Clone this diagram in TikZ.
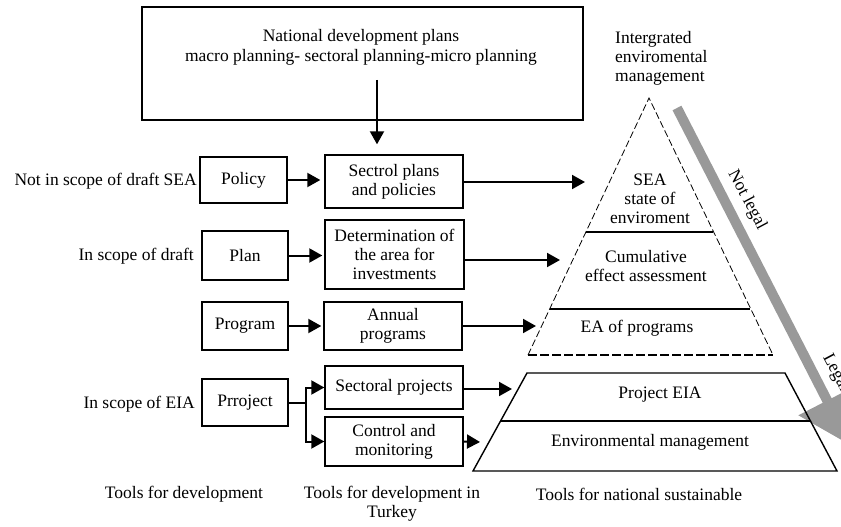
\documentclass[tikz,border=0pt]{standalone}
\usepackage{fontspec}
\setmainfont{Liberation Serif}
\usetikzlibrary{arrows.meta,positioning}

\begin{document}
\begin{tikzpicture}[
            x=1pt, y=-1pt, % work in pixel-like units, y pointing down
            every node/.style={font=\fontsize{17.5}{19}\selectfont, inner sep=0pt, align=center},
            box/.style={draw, line width=1.4pt},
            flow/.style={line width=2pt, -{Triangle[length=13pt,width=14pt]}},
            layer/.style={line width=1.4pt}
        ]

            \useasboundingbox (0,0) rectangle (841,527);

            % 1. National plans box on top
            \node[box, minimum width=441pt, minimum height=113pt] (natplan) at (362.5,63.5) {};
            \node[font=\fontsize{17.5}{20}\selectfont] (natplantext) at (361,47) {National development plans\\macro planning- sectoral planning-micro planning};
            \coordinate (drop) at (377,80);

            % 2. Tools for development (left column)
            \node[box, minimum width=87pt, minimum height=46pt] (policy) at (243.5,180) {Policy};
            \node[box, minimum width=86pt, minimum height=49pt] (plan) at (245,255.5) {Plan};
            \node[box, minimum width=86pt, minimum height=48pt] (program) at (245,326) {Program};
            \node[box, minimum width=86pt, minimum height=47pt] (prroject) at (245,402.5) {Prroject};

            \node[anchor=east] (notsea) at (197,181) {Not in scope of draft SEA};
            \node[anchor=east] (draft) at (194,256) {In scope of draft};
            \node[anchor=east] (eia) at (195,404) {In scope of EIA};

            % 3. Tools for development in Turkey (middle column)
            \node[box, minimum width=138pt, minimum height=53pt] (sectrol) at (394,181.5) {Sectrol plans\\and policies};
            \node[box, minimum width=139pt, minimum height=69pt] (determ) at (394.5,254.5) {Determination of\\the area for\\investments};
            \node[box, minimum width=138pt, minimum height=48pt] (annual) at (393,326) {Annual\\programs};
            \node[box, minimum width=138pt, minimum height=43pt] (sectoral) at (394,387.5) {Sectoral projects};
            \node[box, minimum width=138pt, minimum height=49pt] (control) at (394,441.5) {Control and\\monitoring};

            % 4. Arrows between the columns
            \draw[flow] (drop) -- ([yshift=10pt]drop |- sectrol.north);
            \draw[flow, shorten >=4pt] (policy.east) -- (policy.east -| sectrol.west);
            \draw[flow, shorten >=2pt] (plan.east) -- (plan.east -| determ.west);
            \draw[flow, shorten >=2pt] (program) -- (annual);
            \draw[flow] (prroject.east) -- ++(17,0) |- (sectoral.west);
            \draw[flow] (prroject.east) -- ++(17,0) |- (control.west);

            % arrow ends on the pyramid
            \coordinate (seaIn) at (585,182);
            \coordinate (detIn) at (560,260);
            \coordinate (eaIn) at (536,326);
            \coordinate (eiaIn) at (512,389);
            \coordinate (manIn) at (480,442);
            \draw[flow] (sectrol.east |- seaIn) -- (seaIn);
            \draw[flow] (determ.east |- detIn) -- (detIn);
            \draw[flow] (annual.east) -- (eaIn);
            \draw[flow] (sectoral.east |- eiaIn) -- (eiaIn);
            \draw[flow] (control.east) -- (manIn);

            % 5. Gray legality arrow (runs off the right edge)
            \begin{scope}
                \clip (0,0) rectangle (841,527);
                \draw[line width=10pt, gray!80, -{Triangle[length=50pt,width=62pt]}] (677,108) -- (850,445);
                \node[rotate=-62] (legal) at (836,373) {Legal};
            \end{scope}
            \node[rotate=-62] (notlegal) at (747,200) {Not legal};

            % 6. Pyramid of strategic assessment (dashed, not legal)
            \draw[dash pattern=on 7pt off 3pt, line width=0.8pt] (528,355) -- (649,98) -- (773,355);
            \draw[dash pattern=on 9pt off 3pt, line width=1.8pt] (528,355) -- (773,355);
            \draw[layer] (586,232) -- (713,232);
            \draw[layer] (550,309) -- (750,309);

            \node[anchor=west, align=left] (iem) at (615,58) {Intergrated\\enviromental\\management};
            \node (sea) at (650,199) {SEA\\state of\\enviroment};
            \node (cea) at (646,266) {Cumulative\\effect assessment};
            \node (eaprog) at (637,328) {EA of programs};

            % 7. Legal base: project level
            \draw[layer] (527,373) -- (785,373) -- (837,471) -- (473,471) -- cycle;
            \draw[layer] (501,421) -- (810,421);
            \node (projeia) at (660,395) {Project EIA};
            \node (envman) at (650,442) {Environmental management};

            % 8. Column captions
            \node (cap1) at (184,494) {Tools for development};
            \node (cap2) at (392,504) {Tools for development in\\Turkey};
            \node (cap3) at (639,494) {Tools for national sustainable};

        \end{tikzpicture}
\end{document}
